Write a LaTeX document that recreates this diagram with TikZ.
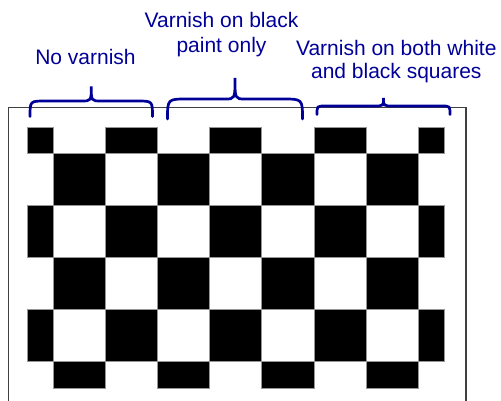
\documentclass[tikz,border=0pt]{standalone}
\usepackage{fontspec}
\setmainfont{Liberation Sans}
\usepackage{xcolor}
\definecolor{varnishblue}{RGB}{0,0,153}
\definecolor{framegray}{RGB}{64,64,64}
\definecolor{edgegray}{RGB}{150,150,150}
\newcommand{\cellsize}{52.15}
% curly brace: left x, right x, end y, middle y, tip y
\newcommand{\varnishbrace}[5]{%
\draw[bracket] (#1,#3) .. controls (#1,#4) .. (#1+#3-#4,#4) -- ({(#1+#2)/2-10},#4)
  .. controls ({(#1+#2)/2},#4) .. ({(#1+#2)/2},#5)
  .. controls ({(#1+#2)/2},#4) .. ({(#1+#2)/2+10},#4) -- (#2-#3+#4,#4)
  .. controls (#2,#4) .. (#2,#3);}

\begin{document}
\begin{tikzpicture}[x=1pt,y=-1pt,
  varnishtext/.style={text=varnishblue, font=\fontsize{21}{24}\selectfont, inner sep=0pt, align=center},
  bracket/.style={draw=varnishblue, line width=2.7pt, line cap=round},
  boardframe/.style={draw=framegray, line width=1.2pt},
  blackcell/.style={fill=black, draw=edgegray, line width=0.9pt}]
\useasboundingbox (0,0) rectangle (501,401);

% frame round the board
\draw[boardframe] (8.3,401) -- (8.3,107.3) -- (466,107.3) -- (466,401);

% checkerboard, half squares on the edges
\foreach \r in {0,...,5}{
  \foreach \c in {0,...,8}{
    \pgfmathtruncatemacro{\cellodd}{mod(\r+\c,2)}
    \ifnum\cellodd=0
      \pgfmathsetmacro{\xa}{max(27.7,1.15+\c*\cellsize)}
      \pgfmathsetmacro{\xb}{min(444.3,53.3+\c*\cellsize)}
      \pgfmathsetmacro{\ya}{max(127.3,100.85+\r*\cellsize)}
      \pgfmathsetmacro{\yb}{min(388,153+\r*\cellsize)}
      \draw[blackcell] (\xa,\ya) rectangle (\xb,\yb);
    \fi
  }
}

% braces
\varnishbrace{30}{152.5}{116.5}{101}{86.5}
\varnishbrace{167.5}{302.5}{119}{99}{78}
\varnishbrace{317}{450}{114.5}{106}{98}

% labels (base = last line)
\node[varnishtext, anchor=base] (novarnish) at (85.5,65) {No varnish};
\node[varnishtext, anchor=base] (blackonly) at (221.5,52.8) {Varnish on black\\[1.5pt]paint only};
\node[varnishtext, anchor=base] (bothvarnish) at (396.3,78.3) {Varnish on both white\\[-1.7pt]and black squares};
\end{tikzpicture}
\end{document}
